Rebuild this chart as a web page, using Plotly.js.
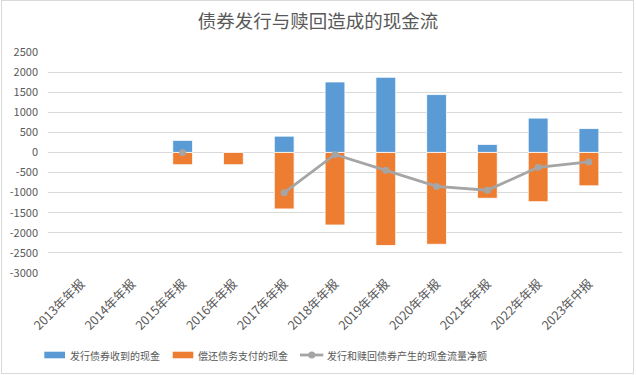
<!DOCTYPE html>
<html>
<head>
<meta charset="utf-8">
<script src="https://cdn.plot.ly/plotly-3.0.1.min.js"></script>
<style>
body{margin:0;padding:0;background:#fff;}
#chart{position:absolute;left:0;top:0;width:636px;height:375px;}
#frame{position:absolute;left:1px;top:0;width:631px;height:372px;border:1px solid #d9d9d9;pointer-events:none;}
</style>
</head>
<body>
<div id="chart"></div>
<div id="frame"></div>
<script>
const categories = ["2013年年报","2014年年报","2015年年报","2016年年报","2017年年报","2018年年报","2019年年报","2020年年报","2021年年报","2022年年报","2023年中报"];
const issueCash = [null, null, 300, null, 405, 1755, 1870, 1440, 200, 855, 595];
const repayCash = [null, null, -305, -305, -1405, -1805, -2315, -2285, -1140, -1225, -830];
const netCash = [null, null, 0, null, -1000, -50, -445, -845, -940, -370, -235];
const yTicks = [2500, 2000, 1500, 1000, 500, 0, -500, -1000, -1500, -2000, -2500, -3000];
const seriesNames = ['发行债券收到的现金', '偿还债务支付的现金', '发行和赎回债券产生的现金流量净额'];
const seriesColors = ['#5b9bd5', '#ed7d31', '#a5a5a5'];

const font = "'Noto Sans CJK SC', 'Noto Sans', sans-serif";
const W = 636, H = 375, ML = 48, MR = 14, MT = 52, MB = 102;
const PW = W - ML - MR, PH = H - MT - MB;
const px = v => (v - ML) / PW;
const py = v => (H - MB - v) / PH;

const traces = [
  {type:'bar', name:seriesNames[0], x:categories, y:issueCash,
   marker:{color:seriesColors[0], line:{color:'#ffffff', width:0.8}}},
  {type:'bar', name:seriesNames[1], x:categories, y:repayCash,
   marker:{color:seriesColors[1], line:{color:'#ffffff', width:0.8}}},
  {type:'scatter', mode:'lines+markers', name:seriesNames[2], x:categories, y:netCash,
   connectgaps:false, line:{color:seriesColors[2], width:2.8}, marker:{color:seriesColors[2], size:7}}
];

// manual legend (Excel style)
const legY = 355;
const shapes = [
  {type:'rect', xref:'paper', yref:'paper', x0:px(44.3), x1:px(65), y0:py(351.7), y1:py(358.3), fillcolor:seriesColors[0], line:{width:0}},
  {type:'rect', xref:'paper', yref:'paper', x0:px(172.7), x1:px(193.3), y0:py(351.7), y1:py(358.3), fillcolor:seriesColors[1], line:{width:0}},
  {type:'line', xref:'paper', yref:'paper', x0:px(300), x1:px(323.3), y0:py(legY), y1:py(legY), line:{color:seriesColors[2], width:2.8}},
  {type:'circle', xref:'paper', yref:'paper', x0:px(308.3), x1:px(315.3), y0:py(legY-3.5), y1:py(legY+3.5), fillcolor:seriesColors[2], line:{width:0}}
];
const legTextX = [67.7, 196, 325];
const annotations = seriesNames.map((n, i) => ({
  text:n, xref:'paper', yref:'paper', x:px(legTextX[i]), y:py(legY), xanchor:'left', yanchor:'middle',
  showarrow:false, font:{family:font, size:10, color:'#595959'}
}));

const layout = {
  width:W, height:H,
  margin:{l:ML, r:MR, t:MT, b:MB, autoexpand:false},
  paper_bgcolor:'#ffffff', plot_bgcolor:'#ffffff',
  font:{family:font, color:'#595959', size:11},
  title:{text:'债券发行与赎回造成的现金流', x:0.5, xref:'container', y:0.942, yref:'container', xanchor:'center', yanchor:'middle',
         font:{family:font, size:18.5, color:'#595959'}},
  barmode:'relative', bargap:0.61,
  showlegend:false,
  shapes:shapes, annotations:annotations,
  xaxis:{type:'category', tickangle:-45, tickfont:{family:font, size:12.5, color:'#595959'},
         showgrid:false, showline:false, ticks:'', zeroline:false, automargin:false},
  yaxis:{range:[-3000, 2500], tickvals:yTicks, ticktext:yTicks.map(String), showgrid:true, gridcolor:'#d9d9d9', gridwidth:1,
         zeroline:true, zerolinecolor:'#d9d9d9', zerolinewidth:1, showline:false, ticks:'',
         tickfont:{family:font, size:11, color:'#595959'}, automargin:false, ticklabelstandoff:9}
};
Plotly.newPlot('chart', traces, layout, {displayModeBar:false, staticPlot:true});
</script>
</body>
</html>
